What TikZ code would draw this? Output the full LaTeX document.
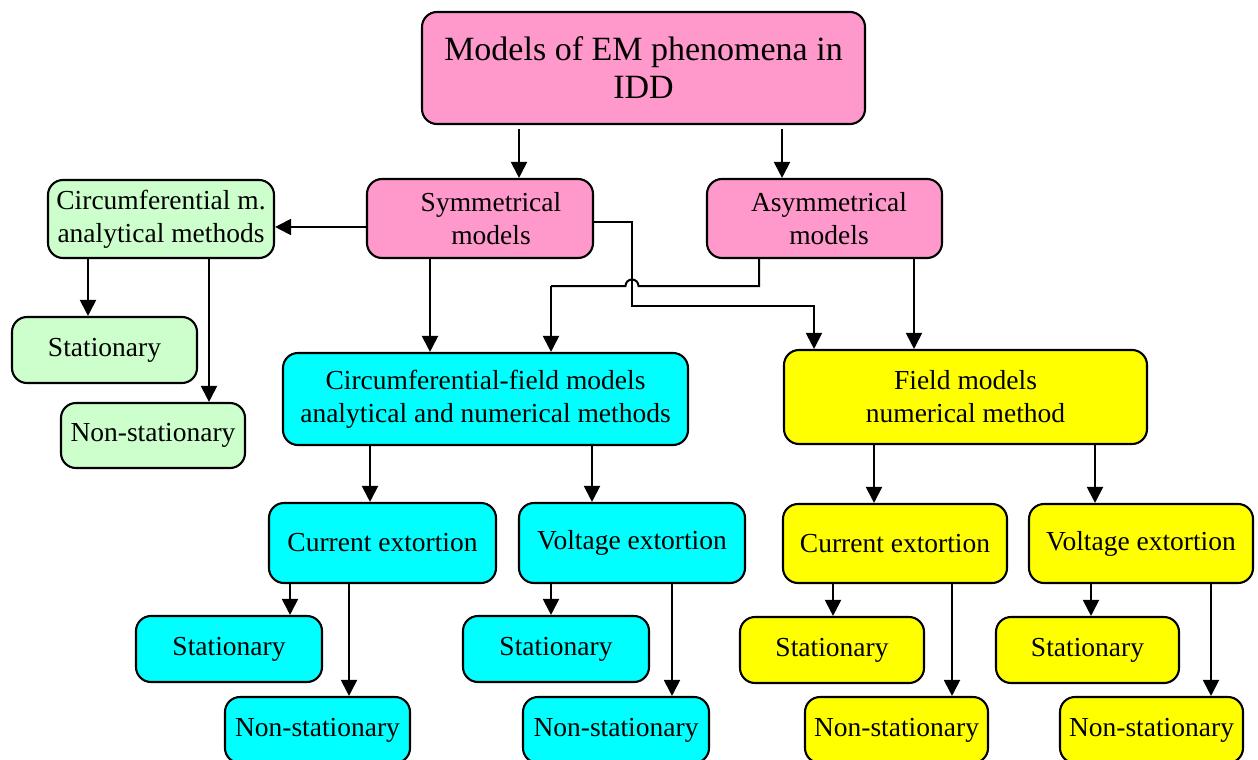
\documentclass[tikz,border=0pt]{standalone}
\usepackage{fontspec}
\setmainfont{Liberation Serif}
\usetikzlibrary{arrows.meta}
\definecolor{pinkc}{HTML}{FF99CC}
\definecolor{cyanc}{HTML}{00FFFF}
\definecolor{yellowc}{HTML}{FFFF00}
\definecolor{greenc}{HTML}{CCFFCC}
\tikzset{
  box/.style={draw=black, line width=2.1pt, rounded corners=15pt, align=center, inner sep=2pt,
    font=\fontsize{27.5}{33}\selectfont},
  pinkbox/.style={box, fill=pinkc},
  cyanbox/.style={box, fill=cyanc},
  yelbox/.style={box, fill=yellowc},
  grnbox/.style={box, fill=greenc},
  arr/.style={line width=2pt, -{Triangle[width=16pt,length=16pt]}},
  wire/.style={line width=2pt},
}
\begin{document}
\begin{tikzpicture}[x=1pt,y=-1pt]
\useasboundingbox (0,0) rectangle (1258,760);
\clip (0,0) rectangle (1258,760);
% nodes
\node[pinkbox, minimum width=443pt, minimum height=112pt, font=\fontsize{34}{38}\selectfont] (top) at (643.5,68) {Models of EM phenomena in\\IDD};
\node[pinkbox, minimum width=226pt, minimum height=79pt] (sym) at (480,218.5) {\hspace*{22pt}Symmetrical\\\hspace*{22pt}models};
\node[pinkbox, minimum width=235pt, minimum height=79pt] (asym) at (824.5,218.5) {\hspace*{9pt}Asymmetrical\\\hspace*{9pt}models};
\node[grnbox, minimum width=226pt, minimum height=78pt] (circ) at (161,219) {Circumferential m.\\analytical methods};
\node[grnbox, minimum width=185pt, minimum height=66pt] (gstat) at (104.5,350) {Stationary};
\node[grnbox, minimum width=184pt, minimum height=65pt] (gnon) at (153,435.5) {Non-stationary};
\node[cyanbox, minimum width=405pt, minimum height=92pt] (cbig) at (485.5,399) {Circumferential-field models\\analytical and numerical methods};
\node[yelbox, minimum width=363pt, minimum height=94pt] (ybig) at (965.5,397) {Field models\\numerical method};
\node[cyanbox, minimum width=227pt, minimum height=80pt] (cce) at (382.5,543) {Current extortion};
\node[cyanbox, minimum width=226pt, minimum height=80pt] (cve) at (632,543) {Voltage extortion};
\node[yelbox, minimum width=224pt, minimum height=79pt] (yce) at (895,543.5) {Current extortion};
\node[yelbox, minimum width=224pt, minimum height=79pt] (yve) at (1141,543.5) {Voltage extortion};
\node[cyanbox, minimum width=186pt, minimum height=66pt] (cs1) at (229,649) {Stationary};
\node[cyanbox, minimum width=185pt, minimum height=66pt] (cn1) at (317.5,730) {Non-stationary};
\node[cyanbox, minimum width=186pt, minimum height=66pt] (cs2) at (556,649) {Stationary};
\node[cyanbox, minimum width=186pt, minimum height=66pt] (cn2) at (616,730) {Non-stationary};
\node[yelbox, minimum width=184pt, minimum height=66pt] (ys1) at (832,650) {Stationary};
\node[yelbox, minimum width=183pt, minimum height=66pt] (yn1) at (896.5,730) {Non-stationary};
\node[yelbox, minimum width=183pt, minimum height=66pt] (ys2) at (1087.5,650) {Stationary};
\node[yelbox, minimum width=183pt, minimum height=66pt] (yn2) at (1151.5,730) {Non-stationary};
% junction coordinates
\coordinate (j1) at (632,306);
\coordinate (j2) at (759,286);
% connectors from top
\draw[arr] ([xshift=-124.5pt,yshift=-4pt]top.south) coordinate (a1) -- (a1 |- sym.north);
\draw[arr] ([xshift=138.5pt,yshift=-4pt]top.south) coordinate (a2) -- (a2 |- asym.north);
% symmetrical
\draw[arr] ([yshift=-8.5pt]sym.west) coordinate (s1) -- (s1 -| circ.east);
\draw[arr] ([xshift=-50pt]sym.south) coordinate (s2) -- (s2 |- cbig.north);
\draw[arr] ([yshift=-3.5pt]sym.east) -| (j1) -| ([xshift=-151.5pt]ybig.north);
% asymmetrical
\draw[wire] ([xshift=-65.5pt]asym.south) -- (j2) -- ([xshift=6.5pt]j2 -| j1)
  arc[start angle=0, end angle=180, radius=6.5pt] -- (551,286) coordinate (j3);
\draw[arr] (j3) -- (j3 |- cbig.north);
\draw[arr] ([xshift=89.5pt]asym.south) coordinate (s3) -- (s3 |- ybig.north);
% circumferential m.
\draw[arr] ([xshift=-73pt]circ.south) coordinate (c1) -- (c1 |- gstat.north);
\draw[arr] ([xshift=48pt]circ.south) coordinate (c2) -- (c2 |- gnon.north);
% big boxes
\draw[arr] ([xshift=-115.5pt]cbig.south) coordinate (b1) -- (b1 |- cce.north);
\draw[arr] ([xshift=106.5pt]cbig.south) coordinate (b2) -- (b2 |- cve.north);
\draw[arr] ([xshift=-91.5pt]ybig.south) coordinate (b3) -- (b3 |- yce.north);
\draw[arr] ([xshift=129.5pt]ybig.south) coordinate (b4) -- (b4 |- yve.north);
% extortion boxes
\draw[arr] ([xshift=-92.5pt]cce.south) coordinate (e1) -- (e1 |- cs1.north);
\draw[arr] ([xshift=-33.5pt]cce.south) coordinate (e2) -- (e2 |- cn1.north);
\draw[arr] ([xshift=-81pt]cve.south) coordinate (e3) -- (e3 |- cs2.north);
\draw[arr] ([xshift=40pt]cve.south) coordinate (e4) -- (e4 |- cn2.north);
\draw[arr] ([xshift=-62pt]yce.south) coordinate (e5) -- (e5 |- ys1.north);
\draw[arr] ([xshift=57pt]yce.south) coordinate (e6) -- (e6 |- yn1.north);
\draw[arr] ([xshift=-50pt]yve.south) coordinate (e7) -- (e7 |- ys2.north);
\draw[arr] ([xshift=70pt]yve.south) coordinate (e8) -- (e8 |- yn2.north);
\end{tikzpicture}
\end{document}
